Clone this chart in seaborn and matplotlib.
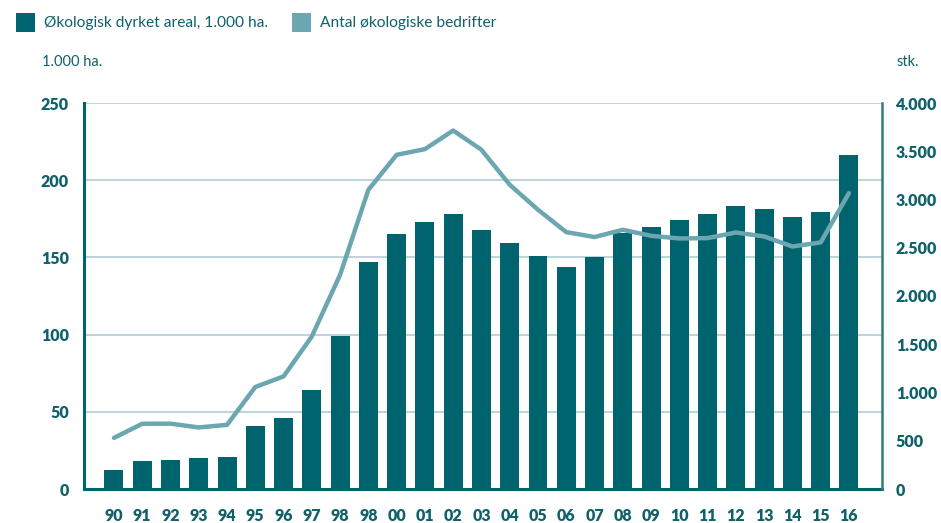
import numpy as np
import pandas as pd
import seaborn as sns
import matplotlib.pyplot as plt
from matplotlib.patches import Rectangle

# Year labels as printed on the axis
year_labels = ["90", "91", "92", "93", "94", "95", "96", "97", "98", "98",
               "00", "01", "02", "03", "04", "05", "06", "07", "08", "09",
               "10", "11", "12", "13", "14", "15", "16"]

# Organic cultivated area, 1.000 ha
area = [12, 18, 19, 20, 21, 41, 46, 64, 99, 147,
        165, 173, 178, 168, 159.5, 151, 144, 150, 166, 170,
        174, 178, 183, 181.5, 176, 179.5, 216.5]

# Number of organic farms
farms = [530, 676, 677, 638, 665, 1057, 1167, 1581, 2220, 3100,
         3463, 3522, 3715, 3515, 3153, 2894, 2662, 2611, 2686, 2624,
         2596, 2600, 2658, 2617, 2513, 2555, 3066]

left_ticks = [0, 50, 100, 150, 200, 250]
right_ticks = [0, 500, 1000, 1500, 2000, 2500, 3000, 3500, 4000]

BAR = "#00646f"
LINE = "#6ca6b0"
TEXT = "#0f616b"
GRID = "#bcd6dc"

sns.set_theme(style="white")
plt.rcParams["font.family"] = ["Lato", "DejaVu Sans"]

W, H = 941, 523
fig = plt.figure(figsize=(W / 100, H / 100), dpi=100)
ax = fig.add_axes([84 / W, 1 - 489 / H, (882 - 84) / W, (489 - 103) / H])

df = pd.DataFrame({"pos": np.arange(len(area)), "area": area, "farms": farms})

sns.barplot(data=df, x="pos", y="area", color=BAR, saturation=1,
            width=0.67, linewidth=0, ax=ax)
ax.set_ylim(0, 250)
ax.set_yticks(left_ticks)
ax.set_yticklabels([str(v) for v in left_ticks])
ax.grid(axis="y", color=GRID, lw=1.5)
ax.grid(axis="x", visible=False)
ax.set_axisbelow(True)
ax.set_xticks(df["pos"])
ax.set_xticklabels(year_labels)
ax.set_xlabel("")
ax.set_ylabel("")

ax2 = ax.twinx()
sns.lineplot(data=df, x="pos", y="farms", color=LINE, lw=3.2, ax=ax2)
ax2.set_ylim(0, 4000)
ax2.set_yticks(right_ticks)
ax2.set_yticklabels([f"{v:,}".replace(",", ".") for v in right_ticks])
ax2.set_xlabel("")
ax2.set_ylabel("")
ax2.grid(False)

ax.set_xlim(-1.06, 27.17)

for a in (ax, ax2):
    for s in a.spines.values():
        s.set_visible(False)
    a.tick_params(length=0, labelsize=11.5, labelcolor=TEXT)
    for lbl in a.get_xticklabels() + a.get_yticklabels():
        lbl.set_fontweight("heavy")

ax.spines["left"].set_visible(True)
ax.spines["left"].set_color(BAR)
ax.spines["left"].set_linewidth(2.2)
ax.spines["bottom"].set_visible(True)
ax.spines["bottom"].set_color(BAR)
ax.spines["bottom"].set_linewidth(2.2)
ax2.spines["right"].set_visible(True)
ax2.spines["right"].set_color("#2f7a84")
ax2.spines["right"].set_linewidth(1.8)

ax.tick_params(axis="y", pad=11)
ax.tick_params(axis="x", pad=14)
ax2.tick_params(axis="y", pad=10)

# Legend row along the top
fig.add_artist(Rectangle((16 / W, 1 - 32 / H), 19 / W, 19 / H,
                         transform=fig.transFigure, color=BAR, lw=0))
fig.text(44 / W, 1 - 22.5 / H, "Økologisk dyrket areal, 1.000 ha.",
         va="center", ha="left", fontsize=11.2, color=TEXT)
fig.add_artist(Rectangle((292 / W, 1 - 32 / H), 19 / W, 19 / H,
                         transform=fig.transFigure, color=LINE, lw=0))
fig.text(320 / W, 1 - 22.5 / H, "Antal økologiske bedrifter",
         va="center", ha="left", fontsize=11.2, color=TEXT)

# Axis unit captions
fig.text(42 / W, 1 - 62 / H, "1.000 ha.", va="center", ha="left",
         fontsize=10.5, color=TEXT)
fig.text(897 / W, 1 - 62 / H, "stk.", va="center", ha="left",
         fontsize=10.5, color=TEXT)

fig.savefig("out.png", dpi=100)
